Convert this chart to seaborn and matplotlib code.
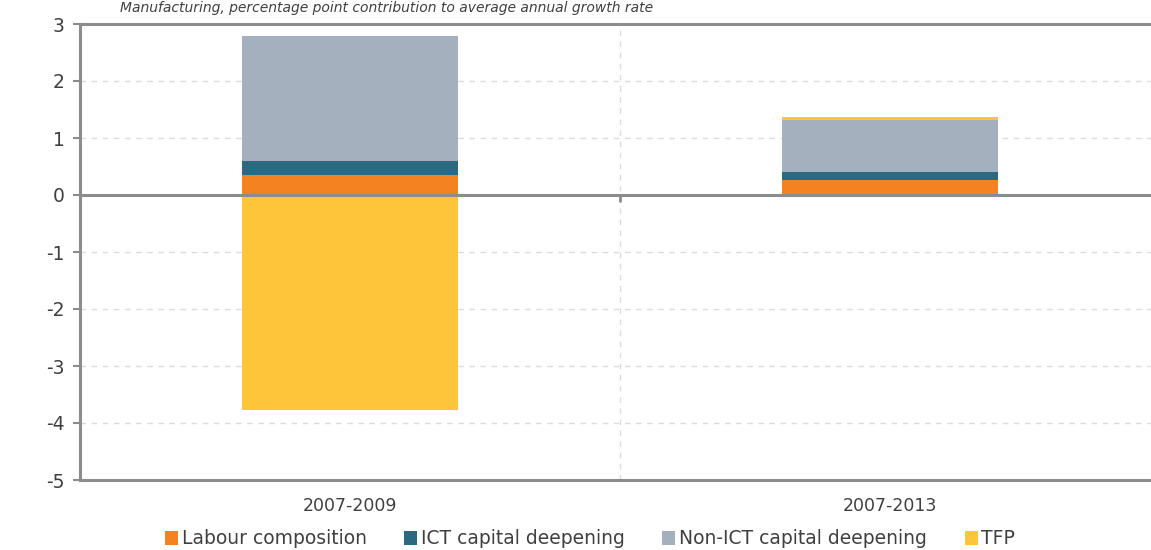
import numpy as np
import matplotlib
matplotlib.use("Agg")
import matplotlib.pyplot as plt
import seaborn as sns
from matplotlib.patches import Patch

periods = ["2007-2009", "2007-2013"]
labour = [0.35, 0.26]
ict = [0.25, 0.14]
non_ict = [2.19, 0.92]
tfp = [-3.77, 0.05]

series_names = ["Labour composition", "ICT capital deepening",
                "Non-ICT capital deepening", "TFP"]
series_colors = ["#F58220", "#2C6880", "#A5B0BE", "#FFC53A"]

sns.set_theme(style="white")
plt.rcParams["font.family"] = ["DejaVu Sans"]
text_col = "#404040"
grey = "#8c8c8c"

fig = plt.figure(figsize=(11.51, 5.5), dpi=100)
ax = fig.add_axes([80 / 1151, 70 / 550, 1080 / 1151, 456 / 550])

# excel-style stacking: positives go up from zero, negatives go down
pos_base = np.zeros(len(periods))
neg_base = np.zeros(len(periods))
for vals, col in zip([labour, ict, non_ict, tfp], series_colors):
    vals = np.array(vals)
    bottoms = np.where(vals >= 0, pos_base, neg_base)
    sns.barplot(x=periods, y=vals, bottom=bottoms, color=col, width=0.4,
                saturation=1, edgecolor="none", linewidth=0, ax=ax)
    pos_base += np.clip(vals, 0, None)
    neg_base += np.clip(vals, None, 0)

ax.set_xlim(-0.5, 1.5)
ax.set_ylim(-5, 3)
ax.set_yticks(range(-5, 4))
ax.set_yticklabels([str(v) for v in range(-5, 4)])
ax.yaxis.grid(True, linestyle=(0, (4, 4)), color="#dcdcdc", linewidth=1)
ax.set_axisbelow(True)
ax.axvline(0.5, color="#dcdcdc", linestyle=(0, (4, 4)), linewidth=1, zorder=0)
ax.axhline(0, color=grey, linewidth=2.2, zorder=3)
ax.plot([0.5, 0.5], [0, -0.1], color=grey, linewidth=2, zorder=3)

for side in ["left", "top", "bottom"]:
    ax.spines[side].set_color(grey)
    ax.spines[side].set_linewidth(2.2)
ax.spines["right"].set_visible(False)

ax.tick_params(axis="y", left=True, length=5, width=1.5, color=grey,
               labelsize=13.5, labelcolor=text_col, pad=6)
ax.tick_params(axis="x", bottom=False, labelsize=12.5, labelcolor=text_col, pad=6)
ax.set_xlabel("")
ax.set_ylabel("")

fig.text(120 / 1151, 0.998, "Manufacturing, percentage point contribution to average annual growth rate",
         fontsize=10, style="italic", color=text_col, ha="left", va="top")

handles = [Patch(facecolor=c, edgecolor="none") for c in series_colors]
fig.legend(handles, series_names, loc="center", bbox_to_anchor=(590 / 1151, 11 / 550),
           ncol=4, frameon=False, fontsize=13.5, handlelength=0.7, handleheight=0.7,
           handletextpad=0.2, columnspacing=2.0, labelcolor=text_col)

fig.savefig("out.png", dpi=100)
